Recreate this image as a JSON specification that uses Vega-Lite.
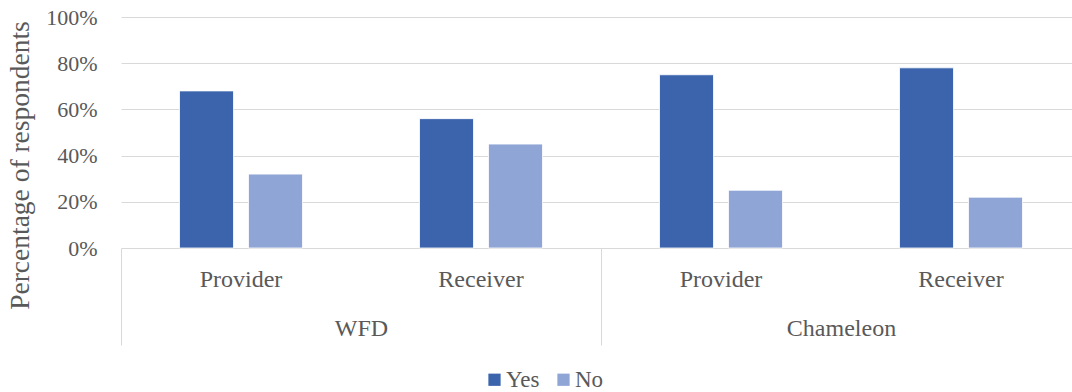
{
  "$schema": "https://vega.github.io/schema/vega-lite/v6.json",
  "autosize": {"type": "none"},
  "padding": {"left": 121, "top": 17, "right": 0, "bottom": 144},
  "width": 951,
  "height": 231,
  "background": "white",
  "config": {
    "font": "Liberation Serif",
    "view": {"stroke": null},
    "axis": {"labelColor": "#595959", "titleColor": "#595959", "labelFont": "Liberation Serif", "titleFont": "Liberation Serif"},
    "legend": {"labelColor": "#595959", "labelFont": "Liberation Serif"}
  },
  "data": {
    "values": [
      {"group": "WFD", "role": "Provider", "cat": "WFD|Provider", "answer": "Yes", "value": 0.68},
      {"group": "WFD", "role": "Provider", "cat": "WFD|Provider", "answer": "No", "value": 0.32},
      {"group": "WFD", "role": "Receiver", "cat": "WFD|Receiver", "answer": "Yes", "value": 0.56},
      {"group": "WFD", "role": "Receiver", "cat": "WFD|Receiver", "answer": "No", "value": 0.45},
      {"group": "Chameleon", "role": "Provider", "cat": "Chameleon|Provider", "answer": "Yes", "value": 0.75},
      {"group": "Chameleon", "role": "Provider", "cat": "Chameleon|Provider", "answer": "No", "value": 0.25},
      {"group": "Chameleon", "role": "Receiver", "cat": "Chameleon|Receiver", "answer": "Yes", "value": 0.78},
      {"group": "Chameleon", "role": "Receiver", "cat": "Chameleon|Receiver", "answer": "No", "value": 0.22}
    ]
  },
  "layer": [
    {
      "mark": {"type": "bar", "stroke": "white", "strokeWidth": 0.8},
      "encoding": {
        "x": {
          "field": "cat", "type": "nominal",
          "sort": ["WFD|Provider", "WFD|Receiver", "Chameleon|Provider", "Chameleon|Receiver"],
          "scale": {"range": [0, 960], "paddingInner": 0.4875, "paddingOuter": 0.24375},
          "axis": {
            "title": null, "orient": "bottom", "domain": false, "ticks": false, "grid": false,
            "labelAngle": 0, "labelFontSize": 24, "labelPadding": 19,
            "labelExpr": "split(datum.value, '|')[1]"
          }
        },
        "xOffset": {
          "field": "answer", "type": "nominal", "sort": ["Yes", "No"],
          "scale": {"paddingInner": 0.217, "paddingOuter": 0}
        },
        "y": {
          "field": "value", "type": "quantitative",
          "scale": {"domain": [0, 1]},
          "axis": {
            "title": "Percentage of respondents",
            "format": ".0%", "values": [0, 0.2, 0.4, 0.6, 0.8, 1],
            "domain": false, "ticks": false,
            "gridColor": "#D9D9D9", "gridWidth": 1,
            "labelFontSize": 22, "labelPadding": 24,
            "titleFontSize": 27.5, "titleFontWeight": "normal",
            "titleX": -101, "titleY": 148, "titleAngle": -90, "titleAlign": "center", "titleBaseline": "middle"
          }
        },
        "color": {
          "field": "answer", "type": "nominal", "sort": ["Yes", "No"],
          "scale": {"range": ["#3B64AD", "#8FA5D6"]},
          "legend": {
            "title": null, "orient": "none", "direction": "horizontal",
            "legendX": 362, "legendY": 351,
            "symbolType": "square", "symbolSize": 150, "symbolStrokeWidth": 0,
            "labelFontSize": 23, "labelOffset": 0, "columnPadding": 12
          }
        }
      }
    },
    {
      "mark": {"type": "rule", "strokeOpacity": 0},
      "encoding": {
        "x": {
          "field": "group", "type": "nominal",
          "sort": ["WFD", "Chameleon"],
          "scale": {"range": [0, 960], "paddingInner": 0, "paddingOuter": 0},
          "axis": {
            "title": null, "orient": "bottom", "domain": false, "grid": false,
            "ticks": true, "tickBand": "extent", "tickSize": 97, "tickColor": "#D9D9D9", "tickWidth": 1,
            "labelAngle": 0, "labelFontSize": 24, "labelPadding": -29
          }
        }
      }
    }
  ],
  "resolve": {"scale": {"x": "independent"}, "axis": {"x": "independent"}}
}
